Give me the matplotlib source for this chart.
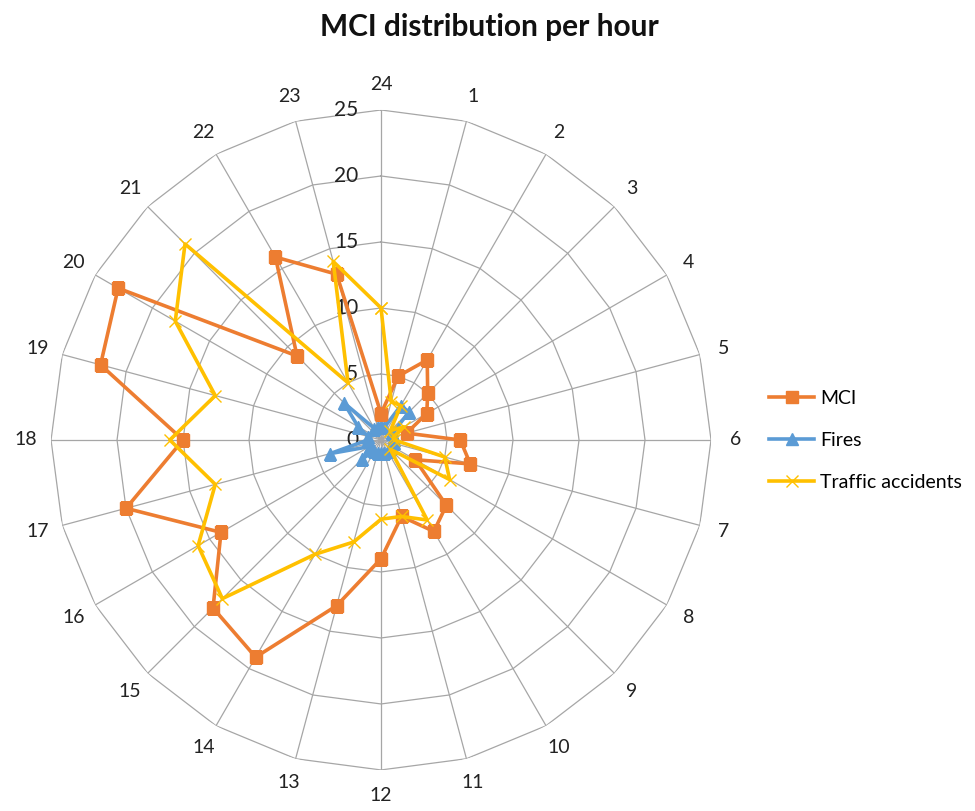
import numpy as np
import matplotlib
matplotlib.use("Agg")
import matplotlib.pyplot as plt

plt.rcParams['font.family'] = ['Lato', 'DejaVu Sans']

# Hours, clockwise starting with 24 at the top
hours = [24] + list(range(1, 24))
hour_labels = [str(h) for h in hours]

# Counts per hour, in the same order as `hours`
mci = [2, 5, 7, 5, 4, 2, 6, 7, 3, 7, 8, 6, 9, 13, 19, 18, 14, 20, 15, 22, 23, 9, 16, 13]
fires = [1, 1, 3, 3, 1, 1, 1, 1, 1, 1, 1, 1, 1, 1, 1, 2, 1, 4, 1, 1, 2, 4, 1, 1]
traffic = [10, 3, 3, 1, 2, 1, 1, 5, 6, 1, 7, 6, 6, 8, 10, 17, 16, 13, 16, 13, 18, 21, 5, 14]

r_ticks = [0, 5, 10, 15, 20, 25]
r_max = 25

fig = plt.figure(figsize=(9.75, 8.11), dpi=100)
ax = fig.add_axes([0.0523, 0.0506, 0.677, 0.8138], projection='polar')
ax.set_theta_zero_location('N')
ax.set_theta_direction(-1)
ax.set_ylim(0, r_max)
ax.grid(False)
ax.spines['polar'].set_visible(False)
ax.set_xticks([])
ax.set_yticks([])
ax.patch.set_alpha(0)

n = len(hours)
theta = np.arange(n) * 2 * np.pi / n
theta_closed = np.append(theta, theta[0])

grid_kw = dict(color='#a6a6a6', lw=0.9, zorder=1)
for r in r_ticks[1:]:
    ax.plot(theta_closed, [r] * (n + 1), **grid_kw)
for t in theta:
    ax.plot([t, t], [0, r_max], **grid_kw)

# radial tick labels to the left of the 24 spoke
for r in r_ticks:
    ax.annotate(str(r), xy=(0, r), xytext=(-23, 0), textcoords='offset pixels',
                ha='right', va='center', fontsize=15, color='#222222', zorder=2)

# hour labels around the outside
for t, lab in zip(theta, hour_labels):
    ax.text(t, 26.9, lab, ha='center', va='center', fontsize=14, color='#222222')

def closed(v):
    return list(v) + [v[0]]

ax.plot(theta_closed, closed(mci), color='#ED7D31', lw=2.6, marker='s',
        markersize=9, label='MCI', zorder=5)
ax.plot(theta_closed, closed(fires), color='#5B9BD5', lw=2.6, marker='^',
        markersize=9, label='Fires', zorder=4)
ax.plot(theta_closed, closed(traffic), color='#FFC000', lw=2.6, marker='x',
        markersize=9, markeredgewidth=1.0, label='Traffic accidents', zorder=6)

fig.text(0.502, 0.967, 'MCI distribution per hour', ha='center', va='center',
         fontsize=21.5, fontweight='bold', color='#111111')

handles, labels = ax.get_legend_handles_labels()
fig.legend(handles, labels,
           loc='center left', bbox_to_anchor=(0.771, 0.457), frameon=False,
           fontsize=14, handlelength=2.3, handletextpad=0.3, labelspacing=1.3)

fig.savefig('out.png', dpi=100)
